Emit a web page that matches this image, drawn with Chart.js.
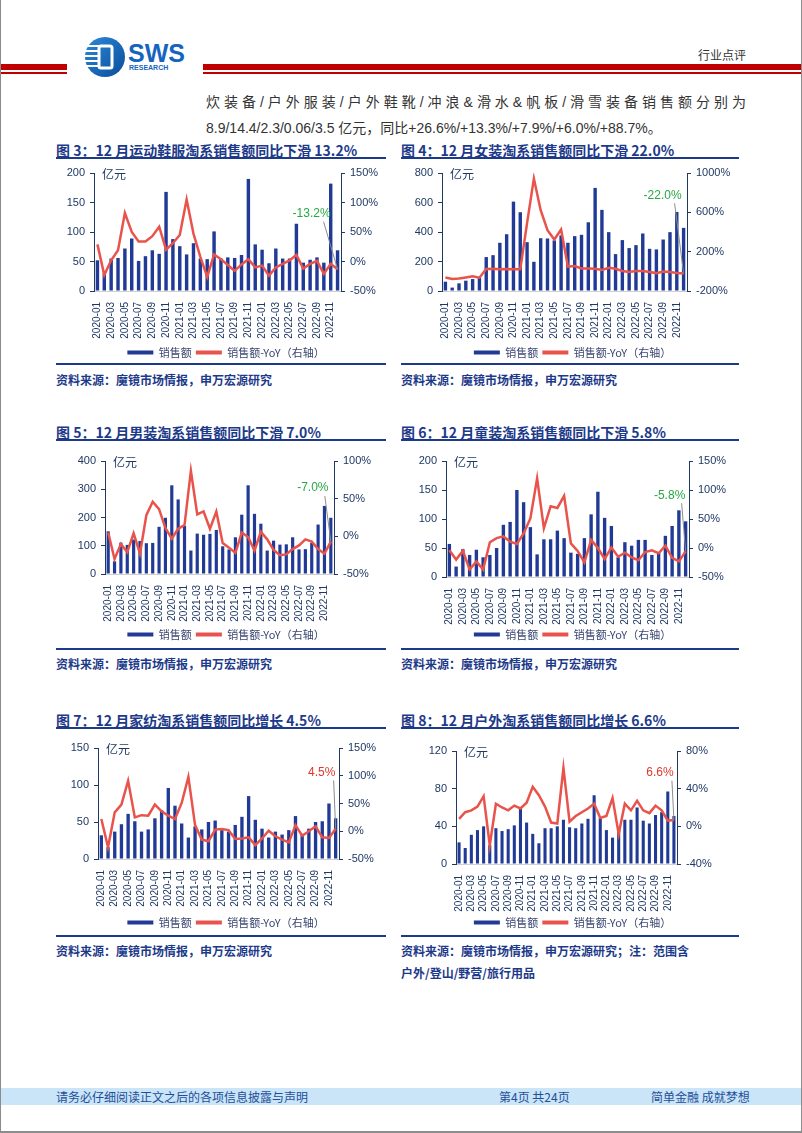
<!DOCTYPE html>
<html>
<head>
<meta charset="utf-8">
<script src="https://cdn.jsdelivr.net/npm/chart.js@4.4.0/dist/chart.umd.min.js"></script>
<style>
  body { margin: 0; background: #fff; }
  #page {
    position: relative; width: 802px; height: 1133px; overflow: hidden; box-sizing: border-box;
    border-left: 1px solid #8c8c8c; border-right: 1px solid #8c8c8c; border-bottom: 2px solid #8c8c8c;
    font-family: "Liberation Sans", "Noto Sans CJK SC", sans-serif;
  }
  .abs { position: absolute; white-space: nowrap; }
  .title { font-family: "Noto Sans CJK SC", sans-serif; font-size: 14px; font-weight: bold; color: #1d3a8a; line-height: 20px; }
  .rule { position: absolute; height: 2px; background: #1d3a8a; }
  .src { font-family: "Noto Sans CJK SC", sans-serif; font-size: 12px; font-weight: bold; color: #1d3a8a; line-height: 22px; }
  .para { font-size: 14px; color: #333; line-height: 20px; }
  .foot { font-family: "Noto Sans CJK SC", sans-serif; font-size: 12px; color: #1f4e9a; line-height: 17px; }
  canvas { position: absolute; }
</style>
</head>
<body>
<div id="page">
  <!-- header -->
  <div class="abs" style="left:0;top:64px;width:66px;height:6px;background:#c00000"></div>
  <div class="abs" style="left:0;top:72px;width:66px;height:1.5px;background:#c00000"></div>
  <div class="abs" style="left:202px;top:64px;width:600px;height:6px;background:#c00000"></div>
  <div class="abs" style="left:202px;top:72px;width:600px;height:1.5px;background:#c00000"></div>
  <svg class="abs" style="left:80px;top:34px" width="115" height="46">
    <defs>
      <linearGradient id="lg" x1="0" y1="0" x2="1" y2="1">
        <stop offset="0" stop-color="#2a8ad8"/>
        <stop offset="1" stop-color="#0d4c9c"/>
      </linearGradient>
    </defs>
    <circle cx="24" cy="23" r="20" fill="url(#lg)"/>
    <rect x="6" y="11" width="12" height="2" fill="#fff"/>
    <rect x="4" y="16" width="14" height="2" fill="#fff"/>
    <rect x="4" y="21" width="14" height="2" fill="#fff"/>
    <rect x="4" y="26" width="14" height="2" fill="#fff"/>
    <rect x="5" y="31" width="13" height="2" fill="#fff"/>
    <rect x="18" y="12" width="13" height="22" rx="2" fill="none" stroke="#fff" stroke-width="3"/>
    <text x="47" y="28" font-family="Liberation Sans" font-weight="bold" font-size="25" fill="#1565c0">SWS</text>
    <text x="48" y="36" font-family="Liberation Sans" font-weight="bold" font-size="7" fill="#1565c0">RESEARCH</text>
  </svg>
  <div class="abs" style="left:697px;top:46px;font-size:12px;color:#333;font-family:'Noto Sans CJK SC'">行业点评</div>

  <div class="abs para" style="left:205px;top:92px;width:540px;white-space:normal;text-align:justify;text-align-last:justify">炊装备/户外服装/户外鞋靴/冲浪&amp;滑水&amp;帆板/滑雪装备销售额分别为</div>
  <div class="abs para" style="left:205px;top:118px">8.9/14.4/2.3/0.06/3.5 亿元，同比+26.6%/+13.3%/+7.9%/+6.0%/+88.7%。</div>

  <!-- figure 3 / 4 -->
  <div class="abs title" style="left:55px;top:140px">图 3：12 月运动鞋服淘系销售额同比下滑 13.2%</div>
  <div class="rule" style="left:55px;top:157px;width:330px"></div>
  <div class="abs title" style="left:400px;top:140px">图 4：12 月女装淘系销售额同比下滑 22.0%</div>
  <div class="rule" style="left:400px;top:157px;width:338px"></div>
  <canvas id="c3" width="340" height="208" style="left:55px;top:160px"></canvas>
  <canvas id="c4" width="347" height="208" style="left:398px;top:160px"></canvas>
  <div class="rule" style="left:55px;top:363px;width:330px;height:1.5px"></div>
  <div class="rule" style="left:400px;top:363px;width:338px;height:1.5px"></div>
  <div class="abs src" style="left:55px;top:369px">资料来源：魔镜市场情报，申万宏源研究</div>
  <div class="abs src" style="left:400px;top:369px">资料来源：魔镜市场情报，申万宏源研究</div>

  <!-- figure 5 / 6 -->
  <div class="abs title" style="left:55px;top:422px">图 5：12 月男装淘系销售额同比下滑 7.0%</div>
  <div class="rule" style="left:55px;top:439px;width:330px"></div>
  <div class="abs title" style="left:400px;top:422px">图 6：12 月童装淘系销售额同比下滑 5.8%</div>
  <div class="rule" style="left:400px;top:439px;width:338px"></div>
  <canvas id="c5" width="340" height="208" style="left:55px;top:442px"></canvas>
  <canvas id="c6" width="347" height="208" style="left:398px;top:442px"></canvas>
  <div class="rule" style="left:55px;top:648px;width:330px;height:1.5px"></div>
  <div class="rule" style="left:400px;top:648px;width:338px;height:1.5px"></div>
  <div class="abs src" style="left:55px;top:653px">资料来源：魔镜市场情报，申万宏源研究</div>
  <div class="abs src" style="left:400px;top:653px">资料来源：魔镜市场情报，申万宏源研究</div>

  <!-- figure 7 / 8 -->
  <div class="abs title" style="left:55px;top:710px">图 7：12 月家纺淘系销售额同比增长 4.5%</div>
  <div class="rule" style="left:55px;top:727px;width:330px"></div>
  <div class="abs title" style="left:400px;top:710px">图 8：12 月户外淘系销售额同比增长 6.6%</div>
  <div class="rule" style="left:400px;top:727px;width:338px"></div>
  <canvas id="c7" width="340" height="208" style="left:55px;top:730px"></canvas>
  <canvas id="c8" width="347" height="208" style="left:398px;top:730px"></canvas>
  <div class="rule" style="left:55px;top:935px;width:330px;height:1.5px"></div>
  <div class="rule" style="left:400px;top:935px;width:338px;height:1.5px"></div>
  <div class="abs src" style="left:55px;top:940px">资料来源：魔镜市场情报，申万宏源研究</div>
  <div class="abs src" style="left:400px;top:940px">资料来源：魔镜市场情报，申万宏源研究；注：范围含<br>户外/登山/野营/旅行用品</div>

  <!-- footer -->
  <div class="abs" style="left:0;top:1088px;width:802px;height:17px;background:#c9e5f7"></div>
  <div class="abs foot" style="left:55px;top:1088px">请务必仔细阅读正文之后的各项信息披露与声明</div>
  <div class="abs foot" style="left:498px;top:1088px">第4页 共24页</div>
  <div class="abs foot" style="left:650px;top:1088px">简单金融 成就梦想</div>
</div>

<script>
const months = [
  "2020-01", "2020-02", "2020-03", "2020-04", "2020-05", "2020-06", "2020-07", "2020-08", "2020-09", "2020-10", "2020-11", "2020-12",
  "2021-01", "2021-02", "2021-03", "2021-04", "2021-05", "2021-06", "2021-07", "2021-08", "2021-09", "2021-10", "2021-11", "2021-12",
  "2022-01", "2022-02", "2022-03", "2022-04", "2022-05", "2022-06", "2022-07", "2022-08", "2022-09", "2022-10", "2022-11", "2022-12"
];

// 运动鞋服
const sportsSales = [52, 30, 55, 56, 72, 89, 51, 59, 69, 63, 168, 88, 76, 62, 81, 55, 54, 101, 55, 57, 56, 61, 190, 79, 70, 47, 72, 55, 55, 114, 48, 53, 57, 48, 182, 69];
const sportsYoY = [29, -23, 2, 19, 82, 50, 34, 34, 43, 59, 20, 31, 45, 105, 47, 8, -26, 12, 4, -6, -16, -5, 4, -10, -7, -24, -10, -4, 2, 11, -12, -4, 1, -21, -4, -13.2];
// 女装
const womenSales = [63, 23, 52, 70, 81, 90, 230, 243, 327, 385, 606, 534, 331, 198, 358, 356, 343, 377, 327, 372, 381, 466, 699, 550, 399, 250, 345, 291, 311, 390, 286, 282, 349, 399, 536, 428];
const womenYoY = [-62, -78, -72, -62, -51, -65, 23, 26, 20, 23, 20, 20, 490, 943, 621, 419, 324, 425, 47, 53, 30, 30, 26, 13, 36, 26, 3, -7, 3, 3, -7, -18, -1, -7, -18, -22];
// 男装
const menSales = [151, 45, 111, 103, 122, 117, 109, 110, 167, 199, 314, 264, 170, 83, 143, 139, 142, 156, 98, 87, 130, 210, 314, 213, 178, 83, 118, 104, 105, 130, 87, 88, 110, 175, 241, 199];
const menYoY = [5, -30, -10, -21, 4, -23, 28, 46, 36, 11, -3, 10, 15, 87, 29, 33, 10, 33, -9, -15, -22, 5, -1, -19, 6, -4, -18, -25, -24, -17, -12, -4, -7, -17, -23, -7];
// 童装
const kidsSales = [57, 18, 48, 38, 47, 34, 38, 50, 90, 95, 150, 129, 86, 39, 65, 65, 80, 67, 42, 40, 67, 108, 147, 102, 88, 34, 60, 54, 64, 64, 38, 42, 71, 88, 115, 96];
const kidsYoY = [-4, -20, -5, -37, -23, -37, 10, 17, 20, 11, 7, 25, 51, 120, 34, 72, 69, 90, 8, -5, -25, 14, 0, -19, 1, -15, -8, -16, -21, -7, -4, -9, 4, -17, -23, -5.8];
// 家纺
const homeSales = [32, 16, 37, 47, 61, 51, 37, 40, 55, 66, 96, 72, 48, 29, 44, 40, 50, 52, 39, 37, 46, 57, 85, 53, 41, 29, 37, 33, 39, 58, 34, 41, 50, 51, 75, 55];
const homeYoY = [22, -29, 34, 48, 91, 25, 29, 28, 48, 36, 28, 22, 51, 98, 11, -15, -18, 3, 4, 2, -14, -13, -11, -25, -13, 1, -9, -15, -20, 11, -8, 0, 9, -11, -12, 4.5];
// 户外
const outdoorSales = [23, 17, 31, 36, 40, 20, 38, 35, 37, 41, 60, 44, 32, 22, 38, 38, 40, 47, 39, 38, 43, 48, 73, 49, 36, 28, 37, 47, 47, 60, 46, 43, 52, 55, 77, 51];
const outdoorYoY = [8, 15, 17, 21, 32, -20, 24, 20, 17, 22, 19, 25, 42, 33, 21, 4, 3, 62, 5, 11, 15, 19, 24, 9, 11, 30, -8, 24, 17, 27, 17, 14, 22, 17, 6, 6.6];

const barColor = "#203a96";
const lineColor = "#e8534b";
const axisColor = "#1f3864";

Chart.defaults.font.family = '"Liberation Sans", "Noto Sans CJK SC", sans-serif';
Chart.defaults.animation = false;

// unit label + last-point callout
const callout = {
  id: "callout",
  afterDatasetsDraw(chart, args, opts) {
    const ctx = chart.ctx;
    const area = chart.chartArea;
    ctx.save();
    ctx.font = '12px "Noto Sans CJK SC"';
    ctx.fillStyle = axisColor;
    ctx.textBaseline = "middle";
    ctx.fillText("亿元", area.left + 8, area.top + 1);

    const pts = chart.getDatasetMeta(1).data;
    const last = pts[pts.length - 1];
    const lx = last.x + opts.dx;
    const ly = chart.scales.yR.getPixelForValue(opts.at);
    ctx.strokeStyle = "#8c8c8c";
    ctx.lineWidth = 1;
    ctx.beginPath();
    ctx.moveTo(lx + 12, ly + 8);
    ctx.lineTo(last.x, last.y);
    ctx.stroke();
    ctx.font = '12px "Liberation Sans"';
    ctx.fillStyle = opts.color;
    ctx.textAlign = "center";
    ctx.fillText(opts.text, lx, ly);
    ctx.restore();
  }
};

function makeChart(id, sales, yoy, lay, note) {
  const tickFont = { size: 11 };
  return new Chart(document.getElementById(id), {
    type: "bar",
    data: {
      labels: months,
      datasets: [
        { type: "bar", label: "销售额", data: sales, backgroundColor: barColor, yAxisID: "yL", order: 1,
          barPercentage: 0.5, categoryPercentage: 1 },
        { type: "line", label: "销售额-YoY（右轴）", data: yoy, borderColor: lineColor, backgroundColor: lineColor,
          borderWidth: 2.5, pointRadius: 0, tension: 0, yAxisID: "yR", order: 0 }
      ]
    },
    options: {
      responsive: false,
      layout: { padding: { top: lay.top, left: 0, right: 0, bottom: 0 } },
      plugins: {
        tooltip: { enabled: false },
        legend: {
          position: "bottom",
          labels: {
            boxWidth: 26, boxHeight: 4, padding: 4, color: "#3a4670",
            font: { size: 11, family: '"Noto Sans CJK SC"' },
            sort: (a, b) => a.datasetIndex - b.datasetIndex,
            generateLabels: (chart) => chart.data.datasets.map((ds, i) => ({
              text: ds.label, fillStyle: ds.backgroundColor, strokeStyle: ds.backgroundColor,
              lineWidth: 0, datasetIndex: i, fontColor: "#3a4670"
            }))
          }
        },
        callout: note
      },
      scales: {
        x: {
          grid: { display: false },
          border: { display: true, color: "#d0d0d0" },
          ticks: {
            autoSkip: false, maxRotation: 90, minRotation: 90, padding: 3,
            color: axisColor, font: { size: 10 },
            callback: (v, i) => (i % 2 === 0 ? months[i] : "")
          },
          afterFit: (s) => { s.height = lay.xh; }
        },
        yL: {
          position: "left", min: lay.left[0], max: lay.left[1],
          grid: { display: true, drawOnChartArea: false, drawTicks: true, tickLength: 4, color: axisColor },
          border: { display: true, color: axisColor },
          ticks: { stepSize: lay.left[2], padding: 5, color: axisColor, font: tickFont },
          afterFit: (s) => { s.width = lay.lw; }
        },
        yR: {
          position: "right", min: lay.right[0], max: lay.right[1],
          grid: { display: true, drawOnChartArea: false, drawTicks: true, tickLength: 4, color: axisColor },
          border: { display: true, color: axisColor },
          ticks: { stepSize: lay.right[2], padding: 5, color: axisColor, font: tickFont, callback: (v) => v + "%" },
          afterFit: (s) => { s.width = lay.rw; }
        }
      }
    },
    plugins: [callout]
  });
}

const green = "#28a745";
const redText = "#e0362c";

makeChart("c3", sportsSales, sportsYoY,
  { top: 13, xh: 52, lw: 38, rw: 55, left: [0, 200, 50], right: [-50, 150, 50] },
  { text: "-13.2%", color: green, at: 81, dx: -26 });
makeChart("c4", womenSales, womenYoY,
  { top: 13, xh: 52, lw: 43, rw: 59, left: [0, 800, 200], right: [-200, 1000, 400] },
  { text: "-22.0%", color: green, at: 773, dx: -21 });
makeChart("c5", menSales, menYoY,
  { top: 19, xh: 51, lw: 49, rw: 62, left: [0, 400, 100], right: [-50, 100, 50] },
  { text: "-7.0%", color: green, at: 64, dx: -18 });
makeChart("c6", kidsSales, kidsYoY,
  { top: 19, xh: 48, lw: 47, rw: 57, left: [0, 200, 50], right: [-50, 150, 50] },
  { text: "-5.8%", color: green, at: 91, dx: -16 });
makeChart("c7", homeSales, homeYoY,
  { top: 18, xh: 54, lw: 42, rw: 57, left: [0, 150, 50], right: [-50, 150, 50] },
  { text: "4.5%", color: redText, at: 106, dx: -14 });
makeChart("c8", outdoorSales, outdoorYoY,
  { top: 21, xh: 49, lw: 57, rw: 69, left: [0, 120, 40], right: [-40, 80, 40] },
  { text: "6.6%", color: redText, at: 57, dx: -14 });
</script>
</body>
</html>
